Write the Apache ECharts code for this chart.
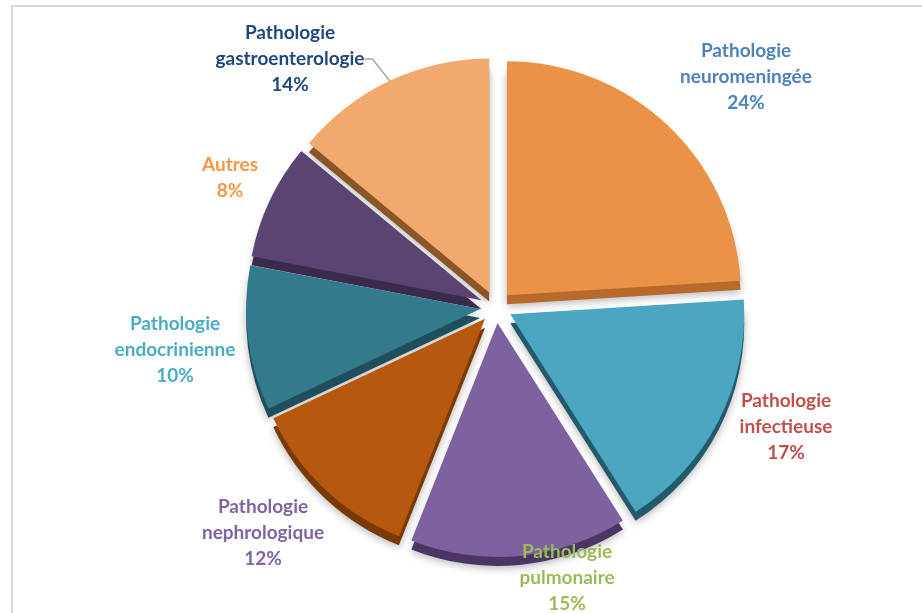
<!DOCTYPE html>
<html>
<head>
<meta charset="utf-8">
<script src="https://cdn.jsdelivr.net/npm/echarts@6/dist/echarts.min.js"></script>
<style>
  html, body { margin: 0; padding: 0; background: #fff; }
  #pie { width: 922px; height: 613px; }
</style>
</head>
<body>
<div id="pie"></div>
<script>
// categories, clockwise from 12 o'clock
const categories = [
  'Pathologie\nneuromeningée',
  'Pathologie\ninfectieuse',
  'Pathologie\npulmonaire',
  'Pathologie\nnephrologique',
  'Pathologie\nendocrinienne',
  'Autres',
  'Pathologie\ngastroenterologie'
];
const values = [24, 17, 15, 12, 10, 8, 14];

// styles
const topColors = ['#EA9347', '#4BA7C1', '#7E62A0', '#B6590E', '#347A8D', '#5A4472', '#F2A96E'];
const sideColors = ['#B86A2C', '#24596A', '#4A3565', '#7A3A06', '#1F4F5C', '#3A2A4C', '#8A5528'];
const labelColors = ['#4F81BD', '#C0504D', '#9BBB59', '#8064A2', '#4BACC6', '#F79646', '#1F497D'];
const labelPos = [[746, 77], [786, 427], [567, 578], [263, 533], [175, 350], [230, 178], [290, 59]];

const cx = 496, cy = 307, R = 234, depth = 9, gap = 16;

const chart = echarts.init(document.getElementById('pie'), null, { renderer: 'canvas' });

const sideData = categories.map((c, i) => ({
  name: c, value: values[i], selected: true,
  itemStyle: { color: sideColors[i] }
}));
const topData = categories.map((c, i) => ({
  name: c, value: values[i], selected: true,
  itemStyle: { color: topColors[i] }
}));
// invisible pie only used to carry the labels
const labelData = categories.map((c, i) => ({
  name: c, value: values[i],
  label: { color: labelColors[i] },
  labelLine: { show: i === 6 }
}));

chart.setOption({
  animation: false,
  graphic: [{
    type: 'rect',
    shape: { x: 12, y: 6, width: 940, height: 640 },
    style: { fill: 'none', stroke: '#D9D9D9', lineWidth: 2 },
    z: -10
  }],
  series: [
    {
      type: 'pie',
      silent: true,
      z: 1,
      center: [cx, cy + depth],
      radius: [0, R],
      startAngle: 90,
      selectedMode: 'multiple',
      selectedOffset: gap,
      label: { show: false },
      labelLine: { show: false },
      itemStyle: { shadowBlur: 8, shadowColor: 'rgba(0,0,0,0.3)', shadowOffsetY: 2 },
      data: sideData
    },
    {
      type: 'pie',
      silent: true,
      z: 2,
      center: [cx, cy],
      radius: [0, R],
      startAngle: 90,
      selectedMode: 'multiple',
      selectedOffset: gap,
      label: { show: false },
      labelLine: { show: false },
      data: topData
    },
    {
      type: 'pie',
      silent: true,
      z: 10,
      center: [cx, cy],
      radius: [0, R + gap],
      startAngle: 90,
      itemStyle: { color: 'rgba(0,0,0,0)' },
      label: {
        show: true,
        position: 'outside',
        fontFamily: 'Lato',
        fontWeight: 'bold',
        fontSize: 19,
        lineHeight: 26,
        align: 'center',
        formatter: p => p.name + '\n' + Math.round(p.percent) + '%'
      },
      labelLine: { show: false, length: 12, length2: 8, lineStyle: { color: '#A6A6A6', width: 1.5 } },
      labelLayout: params => {
        const p = labelPos[params.dataIndex];
        return { x: p[0], y: p[1], align: 'center', verticalAlign: 'middle' };
      },
      data: labelData
    }
  ]
});
</script>
</body>
</html>
